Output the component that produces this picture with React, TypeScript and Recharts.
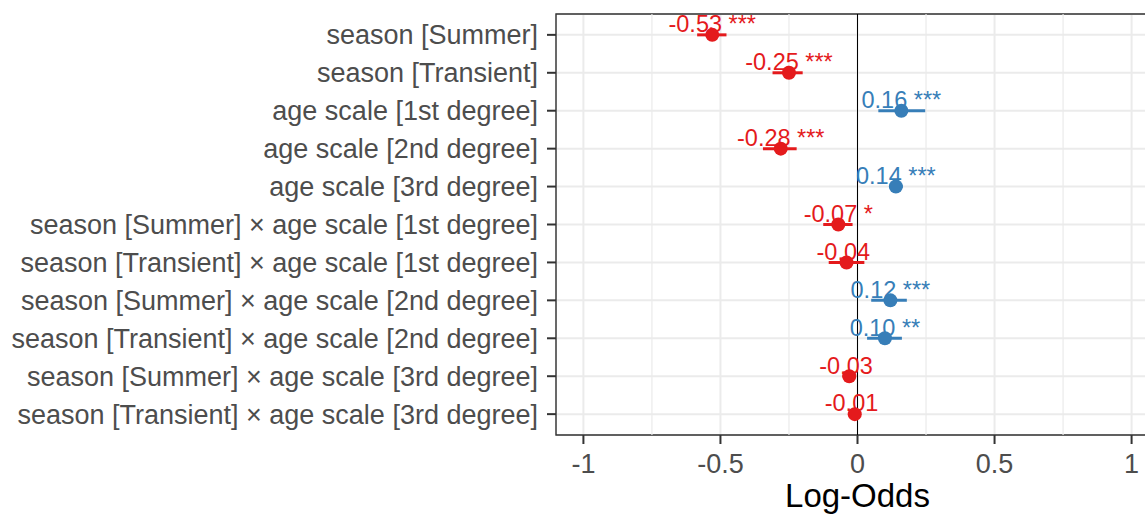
import React from 'react';
import {
  ScatterChart, Scatter, XAxis, YAxis, CartesianGrid, ReferenceLine, ReferenceArea, ErrorBar,
} from 'recharts';

const terms = [
  'season [Summer]',
  'season [Transient]',
  'age scale [1st degree]',
  'age scale [2nd degree]',
  'age scale [3rd degree]',
  'season [Summer] × age scale [1st degree]',
  'season [Transient] × age scale [1st degree]',
  'season [Summer] × age scale [2nd degree]',
  'season [Transient] × age scale [2nd degree]',
  'season [Summer] × age scale [3rd degree]',
  'season [Transient] × age scale [3rd degree]',
];
const estimates = [-0.53, -0.25, 0.16, -0.28, 0.14, -0.07, -0.04, 0.12, 0.1, -0.03, -0.01];
const ciLow = [-0.585, -0.31, 0.076, -0.345, 0.115, -0.125, -0.105, 0.05, 0.035, -0.055, -0.035];
const ciHigh = [-0.478, -0.2, 0.247, -0.222, 0.165, -0.018, 0.025, 0.18, 0.162, -0.005, 0.01];
const stars = ['***', '***', '***', '***', '***', '*', '', '***', '**', '', ''];

const xTicks = [-1, -0.5, 0, 0.5, 1];
const xMinor = [-0.75, -0.25, 0.25, 0.75];

const RED = '#e41a1c';
const BLUE = '#377eb8';
const FONT = '"Liberation Sans", Arial, sans-serif';

const rows = terms.map((term, i) => ({
  term,
  row: i + 1,
  est: estimates[i],
  err: [estimates[i] - ciLow[i], ciHigh[i] - estimates[i]],
  label: `${estimates[i].toFixed(2)} ${stars[i]}`,
}));
const negRows = rows.filter(r => r.est < 0);
const posRows = rows.filter(r => r.est >= 0);

// point + "estimate stars" label centred above it
const makeDot = (color: string) => (props: any) => {
  const { cx, cy, payload } = props;
  return (
    <g>
      <circle cx={cx} cy={cy} r={7} fill={color} />
      <text
        x={cx}
        y={cy - 2.7}
        textAnchor="middle"
        fill={color}
        fontSize={23.5}
        fontFamily={FONT}
        xmlSpace="preserve"
        style={{ whiteSpace: 'pre' }}
      >
        {payload.label}
      </text>
    </g>
  );
};

const axisTitle = (props: any) => {
  const { viewBox } = props;
  return (
    <text
      x={viewBox.x + viewBox.width / 2}
      y={viewBox.y + 72}
      textAnchor="middle"
      fill="#000"
      fontSize={33}
      fontFamily={FONT}
    >
      Log-Odds
    </text>
  );
};

export default function App() {
  return (
    <div style={{ position: 'fixed', left: 0, top: 0, width: 1145, height: 515, overflow: 'hidden', background: '#fff' }}>
      <ScatterChart width={1160} height={515} margin={{ top: 14, right: 1, bottom: 0, left: 0 }}>
        <CartesianGrid stroke="#ebebeb" strokeWidth={2} />
        {xMinor.map(v => (
          <ReferenceLine key={v} x={v} stroke="#ebebeb" strokeWidth={1.2} />
        ))}
        <XAxis
          type="number"
          dataKey="est"
          domain={[-1.1, 1.1]}
          allowDataOverflow
          ticks={xTicks}
          tickFormatter={(v: number) => String(v)}
          height={80}
          axisLine={false}
          tickSize={9}
          tickMargin={10}
          tickLine={{ stroke: '#333', strokeWidth: 2 }}
          tick={{ fill: '#4d4d4d', fontSize: 27, fontFamily: FONT }}
          label={axisTitle}
        />
        <YAxis
          type="number"
          dataKey="row"
          domain={[0.45, 11.55]}
          allowDataOverflow
          reversed
          ticks={rows.map(r => r.row)}
          interval={0}
          tickFormatter={(v: number) => terms[v - 1] ?? ''}
          width={556}
          axisLine={false}
          tickSize={9}
          tickMargin={9}
          tickLine={{ stroke: '#333', strokeWidth: 2 }}
          tick={{ fill: '#4d4d4d', fontSize: 27, fontFamily: FONT }}
        />
        <ReferenceLine x={0} stroke="#000" strokeWidth={1} />
        <ReferenceArea x1={-1.1} x2={1.1} y1={0.45} y2={11.55} fill="none" stroke="#333" strokeWidth={1.4} />
        <Scatter data={negRows} shape={makeDot(RED)} isAnimationActive={false}>
          <ErrorBar dataKey="err" direction="x" width={0} stroke={RED} strokeWidth={3} />
        </Scatter>
        <Scatter data={posRows} shape={makeDot(BLUE)} isAnimationActive={false}>
          <ErrorBar dataKey="err" direction="x" width={0} stroke={BLUE} strokeWidth={3} />
        </Scatter>
      </ScatterChart>
    </div>
  );
}
